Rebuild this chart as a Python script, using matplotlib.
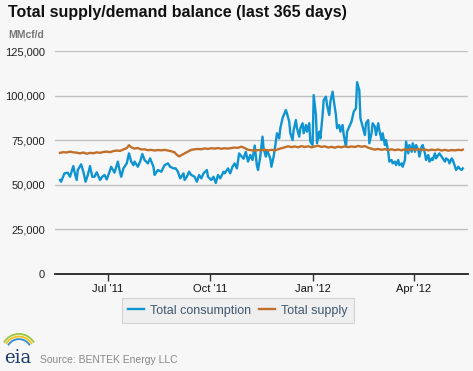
import matplotlib
matplotlib.use('Agg')
import matplotlib.pyplot as plt
from matplotlib.patches import Arc
import numpy as np
import pandas as pd

plt.rcParams['font.family'] = ['Liberation Sans', 'DejaVu Sans']

# first day of the 365 day window
start = pd.Timestamp('2011-05-18')

# total consumption (days since start, thousand MMcf/d)
cons_days = [1, 2, 5, 8, 10, 13, 14, 16, 17, 20, 22, 24, 26, 28, 30, 32, 34, 37, 39, 41,
             43, 45, 47, 50, 52, 53, 55, 56, 58, 61, 63, 65, 67, 68, 71, 73, 75, 77, 80, 82,
             85, 86, 89, 92, 95, 98, 100, 103, 105, 107, 109, 112, 113, 115, 117, 119, 122, 124, 126, 128,
             130, 133, 134, 137, 139, 141, 143, 145, 148, 149, 152, 154, 156, 158, 160, 162, 164, 166, 168, 170,
             172, 174, 176, 178, 179, 181, 183, 184, 186, 187, 190, 191, 193, 195, 196, 198, 199, 201, 204, 205,
             207, 208, 210, 211, 213, 214, 216, 217, 219, 220, 222, 223, 225, 226, 228, 229, 231, 232, 234, 235,
             237, 238, 240, 241, 243, 244, 246, 247, 249, 250, 252, 253, 255, 256, 258, 259, 261, 263, 265, 267,
             268, 270, 271, 273, 275, 276, 278, 279, 281, 282, 284, 285, 287, 288, 290, 291, 293, 294, 296, 297,
             299, 300, 302, 303, 305, 306, 308, 309, 311, 312, 314, 315, 317, 318, 320, 321, 323, 324, 326, 327,
             329, 330, 332, 333, 335, 336, 338, 339, 341, 342, 344, 345, 347, 348, 350, 351, 353, 354, 356, 357,
             359, 360, 362, 363]
cons_vals = [52.7, 51.7, 56.4, 56.8, 54.5, 60.5, 57.3, 52.7, 58.3, 61.5, 57.3, 51.7, 55.5, 60.5, 54.5, 54.5, 57.0, 52.7, 54.5, 55.5,
             53.0, 56.4, 60.1, 56.8, 61.0, 63.0, 56.8, 54.5, 59.2, 62.0, 67.6, 63.0, 61.0, 63.0, 60.1, 63.0, 67.3, 63.9, 62.0, 64.8,
             60.1, 55.5, 58.3, 57.3, 61.0, 62.0, 60.1, 59.2, 59.2, 57.3, 53.6, 56.4, 52.7, 54.5, 57.3, 55.5, 54.5, 51.7, 55.5, 53.6,
             56.4, 58.3, 54.5, 52.7, 54.5, 51.0, 55.5, 53.6, 57.3, 56.4, 59.2, 56.4, 60.1, 62.0, 59.2, 67.6, 66.0, 64.6, 68.5, 63.0,
             66.7, 63.9, 72.0, 60.5, 58.3, 65.8, 77.0, 70.4, 65.8, 69.5, 64.8, 60.1, 65.8, 74.2, 78.9, 76.0, 81.7, 87.3, 91.9, 90.0,
             85.4, 78.9, 75.1, 80.7, 86.3, 81.7, 77.0, 81.7, 84.5, 78.9, 83.5, 79.8, 84.5, 74.2, 72.3, 100.3, 89.1, 73.3, 79.8, 76.0,
             89.1, 97.5, 99.4, 94.7, 89.1, 96.6, 102.2, 97.5, 89.1, 81.7, 83.5, 79.8, 83.5, 77.9, 71.4, 79.8, 82.6, 85.4, 91.0, 92.9,
             107.5, 103.0, 87.3, 82.6, 77.9, 84.5, 86.3, 73.3, 78.9, 84.5, 82.6, 77.9, 84.5, 80.7, 75.1, 78.9, 72.3, 75.1, 68.5, 63.0,
             63.9, 62.0, 63.0, 61.0, 63.9, 61.0, 62.0, 60.1, 63.9, 74.2, 67.6, 72.3, 68.5, 73.3, 68.5, 72.3, 69.5, 65.8, 71.4, 72.3,
             67.6, 63.9, 66.7, 63.0, 64.8, 63.9, 67.6, 64.8, 66.7, 67.6, 65.8, 64.8, 63.0, 64.8, 63.9, 62.0, 64.8, 63.9, 60.1, 58.3,
             60.1, 59.2, 58.3, 59.2]

# total supply
supply_days = [1, 4, 7, 10, 13, 16, 19, 22, 25, 28, 31, 34, 37, 40, 43, 46, 49, 52, 55, 58,
               61, 63, 65, 68, 71, 74, 77, 80, 83, 86, 89, 92, 95, 98, 101, 104, 106, 108, 110, 113,
               116, 119, 122, 125, 128, 131, 134, 137, 140, 143, 146, 149, 152, 155, 158, 161, 164, 167, 170, 173,
               176, 179, 182, 185, 188, 191, 194, 197, 200, 203, 206, 209, 212, 215, 218, 221, 224, 227, 230, 233,
               236, 239, 242, 245, 248, 251, 254, 257, 260, 263, 266, 269, 272, 275, 278, 281, 284, 287, 290, 293,
               296, 299, 302, 305, 308, 311, 314, 317, 320, 323, 326, 329, 332, 335, 338, 341, 344, 347, 350, 353,
               356, 359, 362, 363]
supply_vals = [67.9, 68.3, 68.1, 68.6, 68.2, 68.0, 67.6, 68.1, 67.4, 67.9, 67.7, 68.2, 67.9, 68.4, 68.6, 68.3, 68.9, 69.2, 69.0, 69.8,
               70.6, 72.2, 71.0, 70.3, 70.6, 69.8, 69.9, 69.4, 69.6, 69.2, 69.5, 69.3, 69.6, 69.2, 68.8, 68.2, 66.8, 65.9, 66.6, 67.6,
               68.6, 69.6, 69.9, 70.1, 69.9, 70.4, 70.1, 70.5, 70.3, 70.6, 70.2, 70.5, 70.3, 70.6, 70.9, 70.7, 71.4, 70.6, 69.6, 69.4,
               69.1, 69.5, 69.3, 69.7, 69.2, 69.6, 69.3, 69.9, 70.5, 71.0, 71.6, 71.1, 71.5, 71.0, 71.7, 71.2, 71.6, 71.0, 71.5, 71.9,
               71.2, 71.6, 70.9, 71.3, 70.8, 71.4, 71.0, 71.6, 71.1, 71.5, 71.2, 71.8, 71.3, 71.7, 70.8, 70.2, 69.7, 70.1, 69.6, 70.0,
               69.5, 69.9, 69.4, 69.8, 69.3, 69.9, 69.6, 70.1, 69.6, 70.0, 69.5, 69.8, 69.3, 69.7, 69.4, 69.8, 69.2, 69.6, 69.1, 69.5,
               69.3, 69.6, 69.4, 69.7]

y_ticks = [0, 25000, 50000, 75000, 100000, 125000]
x_ticks = ['2011-07-01', '2011-10-01', '2012-01-01', '2012-04-01']
x_labels = ["Jul '11", "Oct '11", "Jan '12", "Apr '12"]

cons_dates = start + pd.to_timedelta(cons_days, unit='D')
supply_dates = start + pd.to_timedelta(supply_days, unit='D')

bg = '#f7f7f7'
fig = plt.figure(figsize=(4.73, 3.71), dpi=100, facecolor=bg)
ax = fig.add_axes([0.116, 0.2615, 0.873, 0.601], facecolor=bg)

ax.plot(cons_dates, np.array(cons_vals) * 1000, color='#0f94d2', lw=1.7,
        label='Total consumption', zorder=3)
ax.plot(supply_dates, np.array(supply_vals) * 1000, color='#c1702b', lw=1.7,
        label='Total supply', zorder=3)

ax.set_ylim(0, 125000)
ax.set_xlim(start - pd.Timedelta(days=3.6), start + pd.Timedelta(days=367.5))
ax.set_yticks(y_ticks)
ax.set_yticklabels([f'{v:,}' for v in y_ticks])
for v in y_ticks[1:]:
    ax.axhline(v, color='#c0c0c0', lw=1, zorder=1)
ax.axhline(0, color='#222222', lw=1.3, zorder=4, clip_on=False)

ax.set_xticks(pd.to_datetime(x_ticks))
ax.set_xticklabels(x_labels)
ax.tick_params(axis='x', length=5, width=1, color='#333333', labelsize=8,
               labelcolor='#111111', pad=2)
ax.tick_params(axis='y', length=0, labelsize=8, labelcolor='#222222', pad=7)
for s in ax.spines.values():
    s.set_visible(False)

fig.text(0.017, 0.967, 'Total supply/demand balance (last 365 days)', fontsize=11.5,
         fontweight='bold', color='#111111', va='center', ha='left')
fig.text(0.017, 0.905, 'MMcf/d', fontsize=7.5, fontweight='bold', color='#777777',
         va='center', ha='left')

leg = fig.legend(loc='center', bbox_to_anchor=(0.503, 0.163), ncol=2, fontsize=9,
                 frameon=True, fancybox=False, handlelength=1.3, handletextpad=0.5,
                 columnspacing=0.6, borderpad=0.5)
leg.get_frame().set_facecolor('#eeeeee')
leg.get_frame().set_edgecolor('#cccccc')
leg.get_frame().set_linewidth(0.8)
for t in leg.get_texts():
    t.set_color('#3e576f')

# eia logo, roughly
fig.text(0.008, 0.035, 'eia', fontsize=13, family='DejaVu Serif', color='#1b3a6b',
         va='center', ha='left')
for r, c in [(0.05, '#9bc83c'), (0.043, '#f2c21b'), (0.036, '#2f8fd1')]:
    fig.add_artist(Arc((0.04, 0.05), r * 1.5, r * 2.0, theta1=40, theta2=140,
                       transform=fig.transFigure, color=c, lw=1.3))
fig.text(0.085, 0.03, 'Source: BENTEK Energy LLC', fontsize=7.5, color='#888888',
         va='center', ha='left')

fig.savefig('out.png', dpi=100, facecolor=bg)
